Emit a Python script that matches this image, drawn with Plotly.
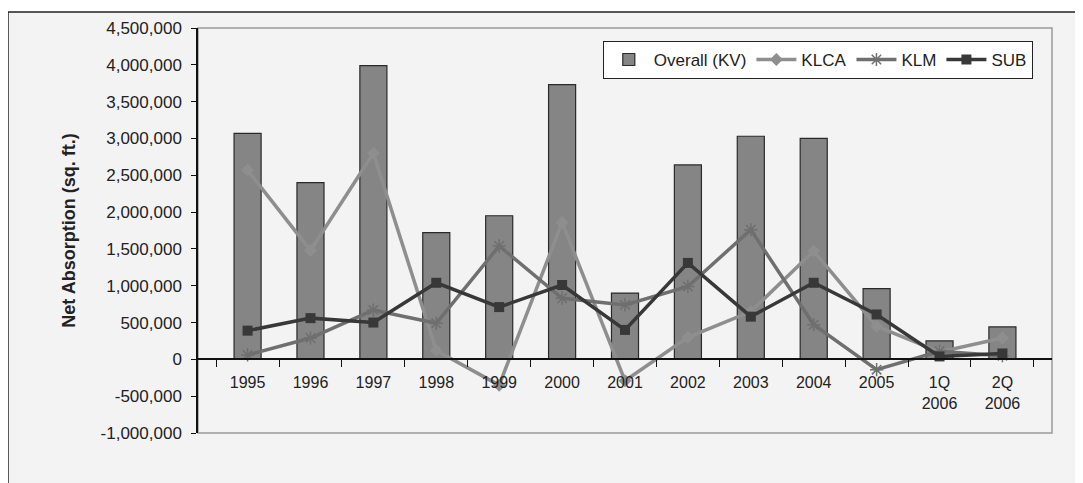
import plotly.graph_objects as go

categories = ["1995", "1996", "1997", "1998", "1999", "2000", "2001", "2002",
              "2003", "2004", "2005", "1Q<br>2006", "2Q<br>2006"]
overall_kv = [3070000, 2400000, 3990000, 1720000, 1950000, 3730000, 900000,
              2640000, 3030000, 3000000, 960000, 250000, 440000]
klca = [2570000, 1480000, 2800000, 120000, -350000, 1860000, -290000,
        300000, 650000, 1470000, 450000, 100000, 290000]
klm = [60000, 290000, 670000, 490000, 1540000, 830000, 740000,
       990000, 1760000, 470000, -140000, 110000, 50000]
sub = [390000, 560000, 500000, 1040000, 710000, 1010000, 400000,
       1310000, 580000, 1040000, 610000, 40000, 80000]
y_ticks = list(range(-1000000, 4500001, 500000))
y_tick_text = [f"{v:,}" for v in y_ticks]

FONT = "Liberation Sans, Arial, sans-serif"

fig = go.Figure()
fig.add_trace(go.Bar(
    x=categories, y=overall_kv, name="Overall (KV)",
    marker=dict(color="#858585", line=dict(color="#2a2a2a", width=1.2)),
))
fig.add_trace(go.Scatter(
    x=categories, y=klca, name="KLCA", mode="lines+markers",
    line=dict(color="#8e8e8e", width=3.5),
    marker=dict(symbol="diamond", size=10, color="#8e8e8e"),
))
fig.add_trace(go.Scatter(
    x=categories, y=klm, name="KLM", mode="lines+markers",
    line=dict(color="#6f6f6f", width=3.5),
    marker=dict(symbol="asterisk-open", size=11, color="#6f6f6f",
                line=dict(color="#6f6f6f", width=1.5)),
))
fig.add_trace(go.Scatter(
    x=categories, y=sub, name="SUB", mode="lines+markers",
    line=dict(color="#383838", width=3.5),
    marker=dict(symbol="square", size=10, color="#383838"),
))

ymin, ymax = -1000000, 4500000
zero_pos = (0 - ymin) / (ymax - ymin)

# the page body adds an 8px offset, so the figure is 8px smaller
fig.update_layout(
    width=1075, height=475,
    margin=dict(l=190, r=31, t=20, b=50),
    paper_bgcolor="white",
    plot_bgcolor="#fbfbfb",
    font=dict(family=FONT, size=17, color="#222"),
    bargap=0.57,
    showlegend=True,
    legend=dict(
        orientation="h", x=0.474, y=0.968, xanchor="left", yanchor="top",
        bgcolor="white", bordercolor="#222", borderwidth=1,
        font=dict(family=FONT, size=17, color="#222"),
        itemwidth=40, traceorder="normal",
    ),
    xaxis=dict(
        type="category", anchor="free", position=zero_pos,
        showline=True, linecolor="#111", linewidth=1.5,
        ticks="outside", tickson="boundaries", ticklen=7, tickcolor="#111",
        showgrid=False, zeroline=False, ticklabelstandoff=9,
        tickfont=dict(family=FONT, size=16, color="#222"),
    ),
    yaxis=dict(
        range=[ymin, ymax], tickvals=y_ticks, ticktext=y_tick_text,
        showline=True, linecolor="#111", linewidth=1.5,
        ticks="outside", ticklen=5, tickcolor="#111",
        showgrid=False, zeroline=False, ticklabelstandoff=6,
        tickfont=dict(family=FONT, size=17, color="#222"),
        title=dict(text="<b>Net Absorption (sq. ft.)</b>",
                   font=dict(family=FONT, size=18, color="#222"), standoff=20),
    ),
    shapes=[
        dict(type="rect", xref="paper", yref="paper",
             x0=-0.2225, x1=1.05, y0=-0.3, y1=1.0395,
             line=dict(color="#222", width=1.5), fillcolor="#f3f3f3",
             layer="below"),
        dict(type="rect", xref="paper", yref="paper",
             x0=0, x1=1, y0=0, y1=1,
             line=dict(color="#9a9a9a", width=1.5), fillcolor="rgba(0,0,0,0)",
             layer="below"),
    ],
)

fig.write_html("out.html")
